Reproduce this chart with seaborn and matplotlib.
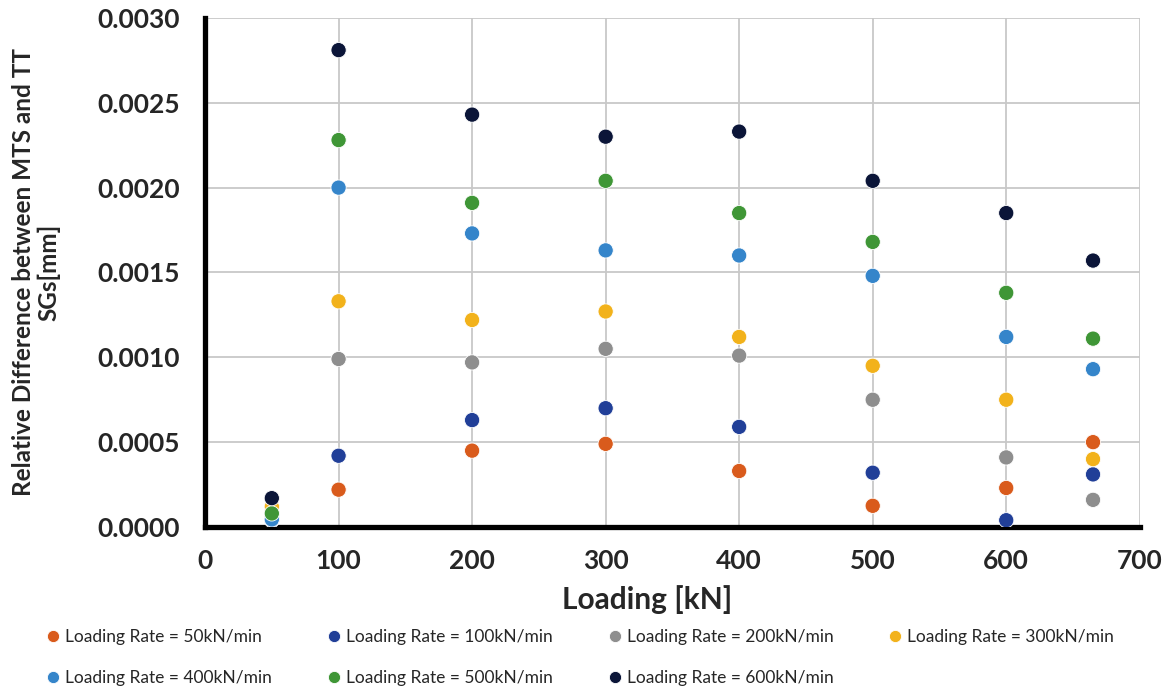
import matplotlib
matplotlib.use("Agg")
import matplotlib.pyplot as plt
import numpy as np
import pandas as pd
import seaborn as sns

# ---- data -----------------------------------------------------------
loading = [50, 100, 200, 300, 400, 500, 600, 665]

rate_50 = [0.00005, 0.00022, 0.00045, 0.00049, 0.00033, 0.000125, 0.00023, 0.00050]
rate_100 = [0.00004, 0.00042, 0.00063, 0.00070, 0.00059, 0.00032, 0.00004, 0.00031]
rate_200 = [0.00006, 0.00099, 0.00097, 0.00105, 0.00101, 0.00075, 0.00041, 0.00016]
rate_300 = [0.00012, 0.00133, 0.00122, 0.00127, 0.00112, 0.00095, 0.00075, 0.00040]
rate_400 = [0.000045, 0.00200, 0.00173, 0.00163, 0.00160, 0.00148, 0.00112, 0.00093]
rate_500 = [0.00008, 0.00228, 0.00191, 0.00204, 0.00185, 0.00168, 0.00138, 0.00111]
rate_600 = [0.00017, 0.00281, 0.00243, 0.00230, 0.00233, 0.00204, 0.00185, 0.00157]

series_names = [f"Loading Rate = {r}kN/min" for r in (50, 100, 200, 300, 400, 500, 600)]
series_vals = [rate_50, rate_100, rate_200, rate_300, rate_400, rate_500, rate_600]
COLORS = ["#D95B1C", "#213F98", "#8E8E8E", "#F2B21B", "#3585CA", "#3F9636", "#0B1538"]

df = pd.concat(
    [pd.DataFrame({"Loading": loading, "Diff": v, "Series": n})
     for n, v in zip(series_names, series_vals)],
    ignore_index=True,
)

sns.set_theme(style="white")
plt.rcParams["font.family"] = ["Lato", "DejaVu Sans"]

fig = plt.figure(figsize=(11.69, 6.88), dpi=100)
ax = fig.add_axes([0.1754, 0.234, 0.7996, 0.740])

sns.scatterplot(data=df, x="Loading", y="Diff", hue="Series",
                palette=COLORS, s=120, linewidth=0.6, edgecolor="white",
                ax=ax, legend=True, zorder=3)

ax.set_xlim(0, 700)
ax.set_ylim(0, 0.003)
ax.set_xticks(np.arange(0, 701, 100))
ax.set_yticks(np.arange(0, 0.00301, 0.0005))
ax.set_yticklabels([f"{t:.4f}" for t in np.arange(0, 0.00301, 0.0005)])
ax.grid(True, color="#C8C8C8", lw=1.3, zorder=0)
ax.set_axisbelow(True)
ax.tick_params(length=0, labelsize=19)
ax.tick_params(axis="y", pad=18)
ax.tick_params(axis="x", pad=16)
for lbl in ax.get_xticklabels() + ax.get_yticklabels():
    lbl.set_fontweight("bold")

for side in ("top", "right"):
    ax.spines[side].set_visible(False)
ax.spines["left"].set_linewidth(3.8)
ax.spines["bottom"].set_linewidth(3.8)
ax.spines["left"].set_color("black")
ax.spines["bottom"].set_color("black")

ax.set_xlabel("Loading [kN]", fontsize=21.5, fontweight="bold")
ax.xaxis.set_label_coords(0.473, -0.115)
ax.set_ylabel("Relative Difference between MTS and TT\nSGs[mm]",
              fontsize=17.5, fontweight="bold", linespacing=1.1)
ax.yaxis.set_label_coords(-0.155, 0.5)

handles, labels = ax.get_legend_handles_labels()
ax.get_legend().remove()
order = [0, 4, 1, 5, 2, 6, 3]
fig.legend([handles[i] for i in order], [labels[i] for i in order],
           loc="lower left", bbox_to_anchor=(0.027, -0.02), ncol=4, frameon=False,
           fontsize=12.5, handlelength=0.7, handletextpad=0.35, columnspacing=3.2,
           labelspacing=1.45, markerscale=0.8)

fig.savefig("out.png", dpi=100)
